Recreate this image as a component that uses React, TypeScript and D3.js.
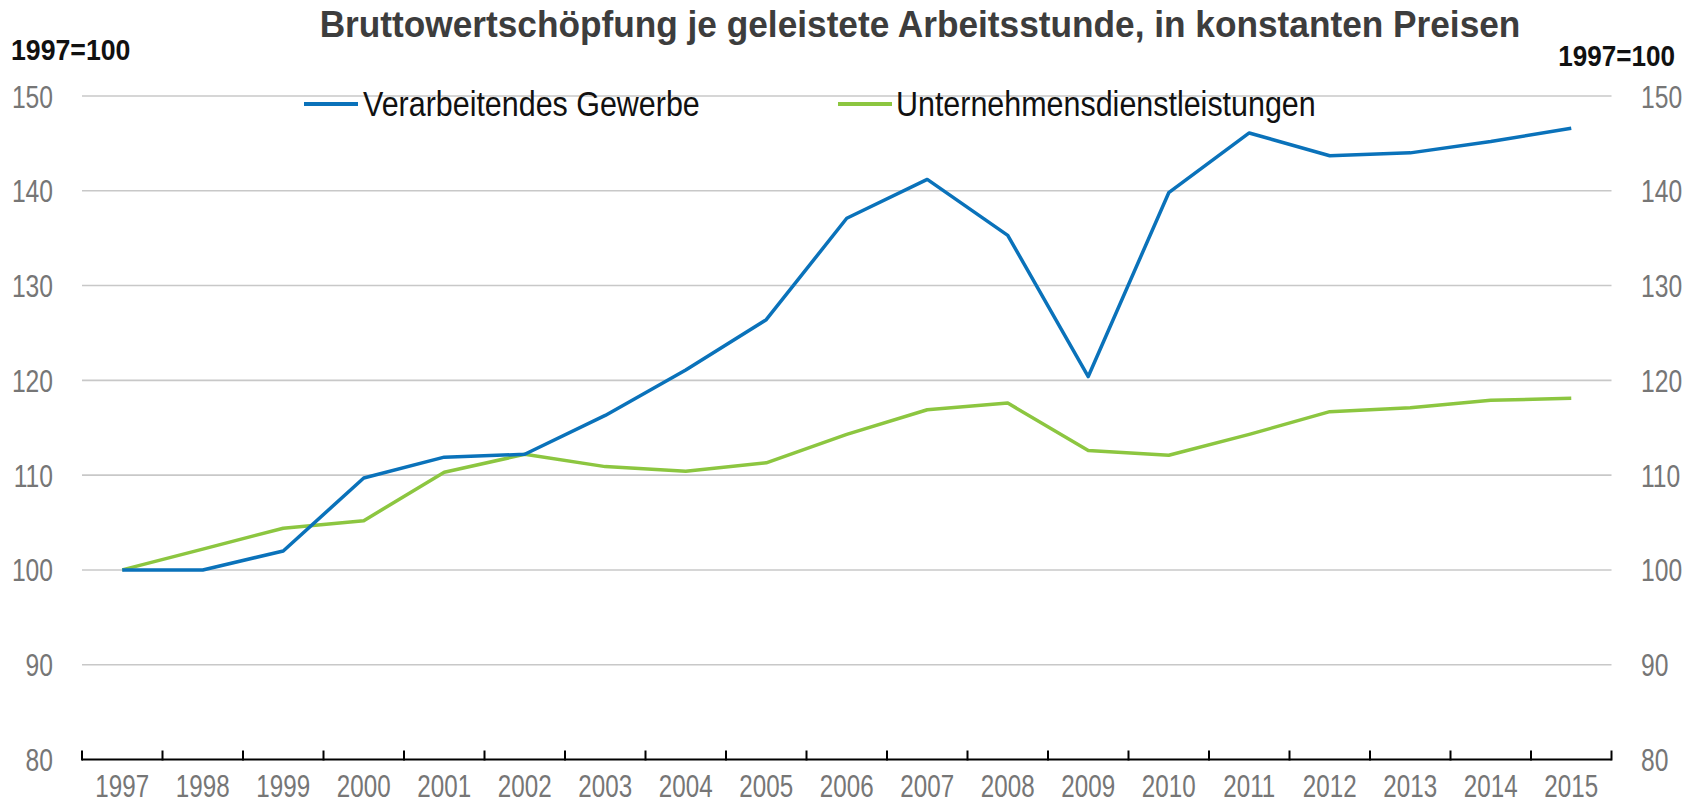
import React from "react";
import * as d3 from "d3";

const years = ["1997","1998","1999","2000","2001","2002","2003","2004","2005","2006","2007","2008","2009","2010","2011","2012","2013","2014","2015"];
const manufacturing = [100, 100, 102.0, 109.7, 111.9, 112.2, 116.3, 121.1, 126.4, 137.1, 141.2, 135.3, 120.4, 139.8, 146.1, 143.7, 144.0, 145.2, 146.6];
const businessServices = [100, 102.2, 104.4, 105.2, 110.3, 112.2, 110.9, 110.4, 111.3, 114.3, 116.9, 117.6, 112.6, 112.1, 114.3, 116.7, 117.1, 117.9, 118.1];
const yTicks = [80, 90, 100, 110, 120, 130, 140, 150];
const seriesNames = ["Verarbeitendes Gewerbe", "Unternehmensdienstleistungen"];
const title = "Bruttowertschöpfung je geleistete Arbeitsstunde, in konstanten Preisen";
const unitLabel = "1997=100";

const W = 1696, H = 804;
const left = 82, right = 1611.5, top = 96, bottom = 759.5;
const FONT = "'Liberation Sans', Arial, sans-serif";
const BLUE = "#0A72BA";
const GREEN = "#8CC640";

type TProps = {
  x: number; y: number; sx: number; size: number; anchor?: string; weight?: string; fill: string; children: React.ReactNode;
};
function T({ x, y, sx, size, anchor = "start", weight = "normal", fill, children }: TProps) {
  return (
    <text
      transform={`translate(${x},${y}) scale(${sx},1)`}
      textAnchor={anchor}
      fontFamily={FONT}
      fontSize={size}
      fontWeight={weight}
      fill={fill}
    >
      {children}
    </text>
  );
}

export default function App() {
  const x = d3.scaleBand<string>().domain(years).range([left, right]).padding(0);
  const y = d3.scaleLinear().domain([80, 150]).range([bottom, top]);
  const cx = (d: string) => (x(d) as number) + x.bandwidth() / 2;
  const line = d3.line<number>().x((_, i) => cx(years[i])).y((v) => y(v));
  const tickXs = years.map((d) => x(d) as number).concat([right]);

  return (
    <div style={{ position: "fixed", left: 0, top: 0 }}>
      <svg width={W} height={H} style={{ display: "block", background: "#fff" }}>
        {yTicks.filter((t) => t !== 80).map((t) => (
          <line key={t} x1={left} x2={right} y1={y(t)} y2={y(t)} stroke="#c8c8c8" strokeWidth={1.6} />
        ))}
        {yTicks.map((t) => (
          <g key={"l" + t}>
            <T x={53} y={y(t) + 11.5} sx={0.77} size={32} anchor="end" fill="#767676">{t}</T>
            <T x={1641} y={y(t) + 11.5} sx={0.77} size={32} anchor="start" fill="#767676">{t}</T>
          </g>
        ))}
        <line x1={left} x2={right} y1={bottom} y2={bottom} stroke="#000" strokeWidth={2} />
        {tickXs.map((tx, i) => (
          <line key={"t" + i} x1={tx} x2={tx} y1={bottom + 1} y2={bottom - 9} stroke="#000" strokeWidth={2} />
        ))}
        {years.map((d) => (
          <T key={"x" + d} x={cx(d)} y={797} sx={0.78} size={31} anchor="middle" fill="#767676">{d}</T>
        ))}
        <path d={line(businessServices) || ""} fill="none" stroke={GREEN} strokeWidth={3.5} strokeLinejoin="round" />
        <path d={line(manufacturing) || ""} fill="none" stroke={BLUE} strokeWidth={3.5} strokeLinejoin="round" />
        <T x={920} y={37} sx={0.94} size={37.5} anchor="middle" weight="bold" fill="#3d3d3d">{title}</T>
        <T x={11} y={60} sx={0.92} size={29} weight="bold" fill="#111">{unitLabel}</T>
        <T x={1675} y={66} sx={0.9} size={29} anchor="end" weight="bold" fill="#111">{unitLabel}</T>
        <line x1={304} x2={358} y1={104} y2={104} stroke={BLUE} strokeWidth={4} />
        <T x={363} y={116} sx={0.87} size={35} fill="#111">{seriesNames[0]}</T>
        <line x1={838} x2={892} y1={104} y2={104} stroke={GREEN} strokeWidth={4} />
        <T x={896} y={116} sx={0.87} size={35} fill="#111">{seriesNames[1]}</T>
      </svg>
    </div>
  );
}
